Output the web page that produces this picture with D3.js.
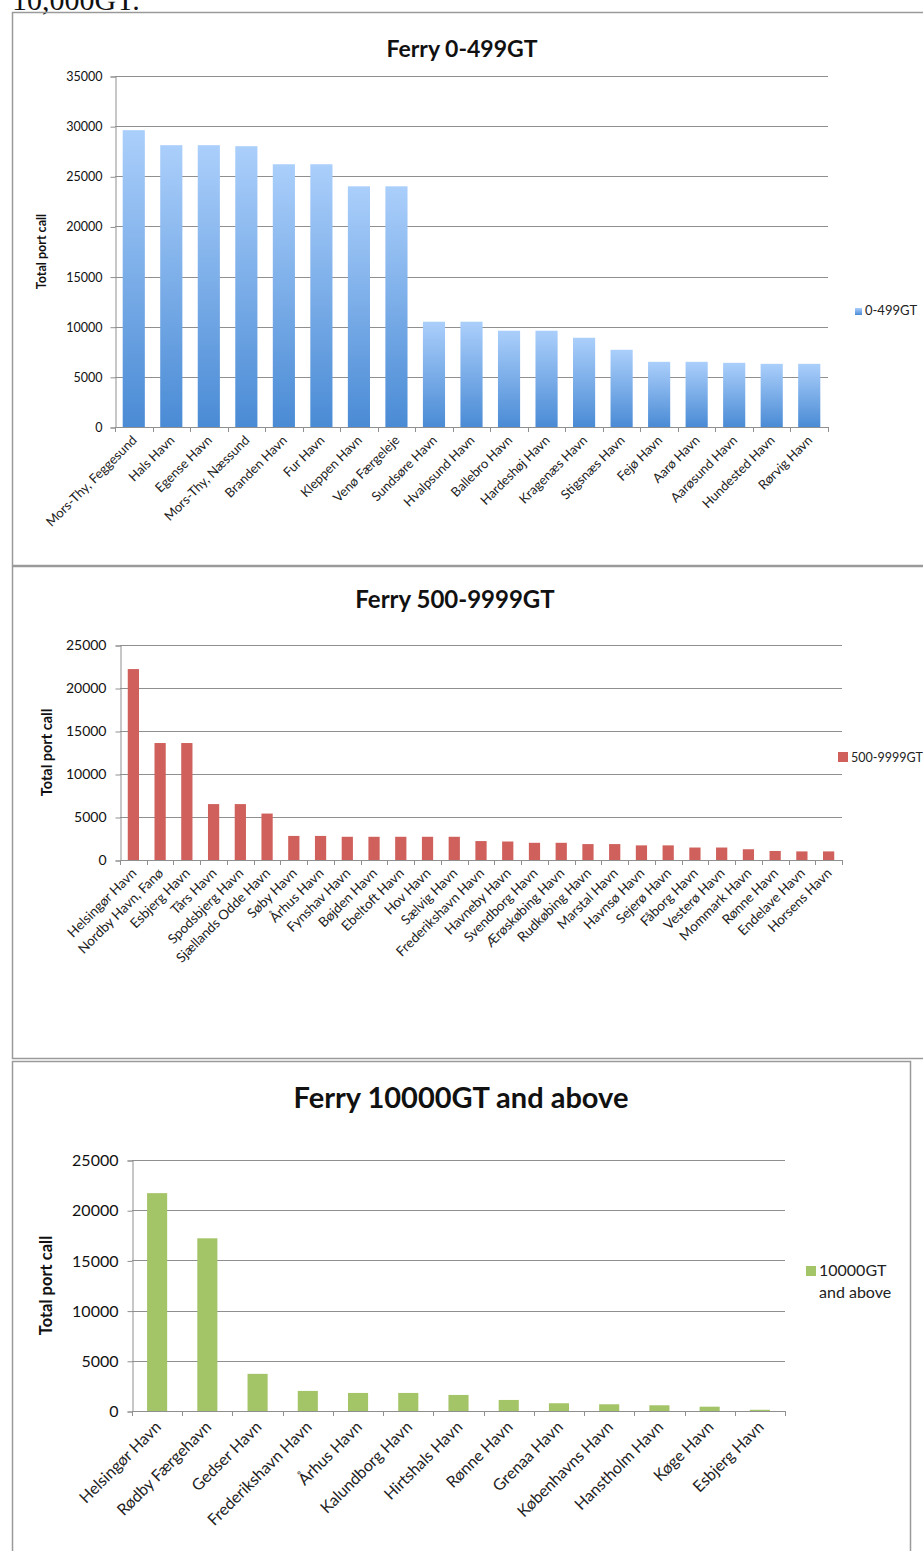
<!DOCTYPE html>
<html><head><meta charset="utf-8">
<script src="https://cdn.jsdelivr.net/npm/d3@7"></script>
<style>body{margin:0;background:#fff}svg{display:block}</style>
</head><body>
<svg id="c" width="923" height="1551"></svg>
<script>
const cats1 = ["Mors-Thy, Feggesund","Hals Havn","Egense Havn","Mors-Thy, Næssund","Branden Havn","Fur Havn","Kleppen Havn","Venø Færgeleje","Sundsøre Havn","Hvalpsund Havn","Ballebro Havn","Hardeshøj Havn","Kragenæs Havn","Stigsnæs Havn","Fejø Havn","Aarø Havn","Aarøsund Havn","Hundested Havn","Rørvig Havn"];
const vals1 = [29600,28100,28100,28000,26200,26200,24000,24000,10500,10500,9600,9600,8900,7700,6500,6500,6400,6300,6300];
const ticks1 = [0,5000,10000,15000,20000,25000,30000,35000];

const cats2 = ["Helsingør Havn","Nordby Havn, Fanø","Esbjerg Havn","Tårs Havn","Spodsbjerg Havn","Sjællands Odde Havn","Søby Havn","Århus Havn","Fynshav Havn","Bøjden Havn","Ebeltoft Havn","Hov Havn","Sælvig Havn","Frederikshavn Havn","Havneby Havn","Svendborg Havn","Ærøskøbing Havn","Rudkøbing Havn","Marstal Havn","Havnsø Havn","Sejerø Havn","Fåborg Havn","Vesterø Havn","Mommark Havn","Rønne Havn","Endelave Havn","Horsens Havn"];
const vals2 = [22200,13600,13600,6500,6500,5400,2800,2800,2700,2700,2700,2700,2700,2200,2150,2000,2000,1850,1850,1700,1700,1450,1450,1250,1050,1000,1000];
const ticks2 = [0,5000,10000,15000,20000,25000];

const cats3 = ["Helsingør Havn","Rødby Færgehavn","Gedser Havn","Frederikshavn Havn","Århus Havn","Kalundborg Havn","Hirtshals Havn","Rønne Havn","Grenaa Havn","Københavns Havn","Hanstholm Havn","Køge Havn","Esbjerg Havn"];
const vals3 = [21700,17200,3700,2000,1800,1800,1600,1100,770,670,570,430,120];
const ticks3 = [0,5000,10000,15000,20000,25000];

const svg = d3.select("#c");
const FONT = "Lato, 'Open Sans', sans-serif";

const defs = svg.append("defs");
const g1 = defs.append("linearGradient").attr("id","blueGrad").attr("x1",0).attr("y1",0).attr("x2",0).attr("y2",1);
g1.append("stop").attr("offset","0%").attr("stop-color","#abcffb");
g1.append("stop").attr("offset","100%").attr("stop-color","#4a8bd5");

// top text, cut by the page edge as in the original screenshot
svg.append("text").attr("x",12).attr("y",10).attr("font-family","'Liberation Serif', serif")
  .attr("font-size",30).attr("fill","#111").text("10,000GT.");

// panel borders
svg.append("rect").attr("x",12.5).attr("y",12.5).attr("width",930).attr("height",553).attr("fill","none").attr("stroke","#9a9a9a").attr("stroke-width",1.5);
svg.append("rect").attr("x",12.5).attr("y",566.5).attr("width",930).attr("height",492).attr("fill","none").attr("stroke","#9a9a9a").attr("stroke-width",1.5);
svg.append("rect").attr("x",12.5).attr("y",1061.5).attr("width",898).attr("height",520).attr("fill","none").attr("stroke","#9a9a9a").attr("stroke-width",1.5);

function panel(o){
  const x = d3.scaleBand().domain(o.cats).range([o.left,o.right]).paddingInner(o.pad).paddingOuter(o.pad/2);
  const y = d3.scaleLinear().domain([0,o.max]).range([o.bottom,o.top]);
  const g = svg.append("g");
  g.selectAll("line.grid").data(o.ticks.filter(t=>t>0)).join("line")
    .attr("x1",o.left).attr("x2",o.right).attr("y1",d=>Math.round(y(d))+0.5).attr("y2",d=>Math.round(y(d))+0.5)
    .attr("stroke","#8f8f8f").attr("stroke-width",1);
  const ya = d3.axisLeft(y).tickValues(o.ticks).tickSize(5).tickPadding(o.tpad).tickFormat(d3.format("d"));
  const yg = g.append("g").attr("transform",`translate(${o.left+0.5},0.5)`).call(ya);
  yg.select(".domain").attr("stroke","#8f8f8f");
  yg.selectAll(".tick line").attr("stroke","#8f8f8f");
  yg.selectAll("text").attr("font-family",FONT).attr("font-size",o.tfs).attr("fill","#111");
  g.selectAll("rect.bar").data(o.vals).join("rect")
    .attr("x",(d,i)=>x(o.cats[i])).attr("width",x.bandwidth())
    .attr("y",d=>y(d)).attr("height",d=>o.bottom-y(d)).attr("fill",o.fill);
  g.append("line").attr("x1",o.left).attr("x2",o.right).attr("y1",o.bottom+0.5).attr("y2",o.bottom+0.5).attr("stroke","#8f8f8f");
  const step = (o.right-o.left)/o.cats.length;
  g.selectAll("line.xt").data(d3.range(o.cats.length+1)).join("line")
    .attr("x1",i=>Math.round(o.left+i*step)+0.5).attr("x2",i=>Math.round(o.left+i*step)+0.5)
    .attr("y1",o.bottom).attr("y2",o.bottom+5).attr("stroke","#8f8f8f");
  g.selectAll("text.xl").data(o.cats).join("text")
    .attr("transform",d=>`translate(${x(d)+x.bandwidth()/2+o.lx},${o.bottom+o.ly}) rotate(-45)`)
    .attr("text-anchor","end").attr("font-family",FONT).attr("font-size",o.xfs).attr("fill","#222").text(d=>d);
  g.append("text").attr("x",o.tx).attr("y",o.ty).attr("text-anchor","middle").attr("font-family",FONT)
    .attr("font-weight","bold").attr("font-size",o.titfs).attr("fill","#111").text(o.title);
  g.append("text").attr("transform",`translate(${o.ylx},${(o.top+o.bottom)/2}) rotate(-90)`)
    .attr("text-anchor","middle").attr("font-family",FONT).attr("font-weight","bold").attr("font-size",o.ylfs).attr("fill","#111").text("Total port call");
  g.append("rect").attr("x",o.lgx).attr("y",o.lgy).attr("width",o.lgs).attr("height",o.lgs).attr("fill",o.fill);
  o.legend.forEach((t,i)=>{
    g.append("text").attr("x",o.lgx+o.lgs+3).attr("y",o.lgy+o.lgs+i*o.lglh).attr("font-family",FONT)
      .attr("font-size",o.lgfs).attr("fill","#222").text(t);
  });
}

panel({cats:cats1,vals:vals1,ticks:ticks1,max:35000,left:115,right:828,top:76,bottom:427,pad:0.41,
  fill:"url(#blueGrad)",tfs:12.5,tpad:8,xfs:13,lx:4,ly:14,title:"Ferry 0-499GT",tx:462,ty:57,titfs:23,
  ylx:46,ylfs:12.5,lgx:855,lgy:308,lgs:7,legend:["0-499GT"],lgfs:13,lglh:14});

panel({cats:cats2,vals:vals2,ticks:ticks2,max:25000,left:120,right:842,top:645,bottom:860,pad:0.58,
  fill:"#cf605b",tfs:14,tpad:9,xfs:13.5,lx:4,ly:14,title:"Ferry 500-9999GT",tx:455,ty:608,titfs:24,
  ylx:52,ylfs:14.5,lgx:838,lgy:752,lgs:10,legend:["500-9999GT"],lgfs:12.5,lglh:14});

panel({cats:cats3,vals:vals3,ticks:ticks3,max:25000,left:132,right:785,top:1160,bottom:1411,pad:0.6,
  fill:"#a4c468",tfs:16,tpad:9,xfs:16,lx:5,ly:17,title:"Ferry 10000GT and above",tx:461,ty:1108,titfs:29,
  ylx:52,ylfs:16.5,lgx:806,lgy:1266,lgs:10,legend:["10000GT","and above"],lgfs:16,lglh:22});
</script>
</body></html>
